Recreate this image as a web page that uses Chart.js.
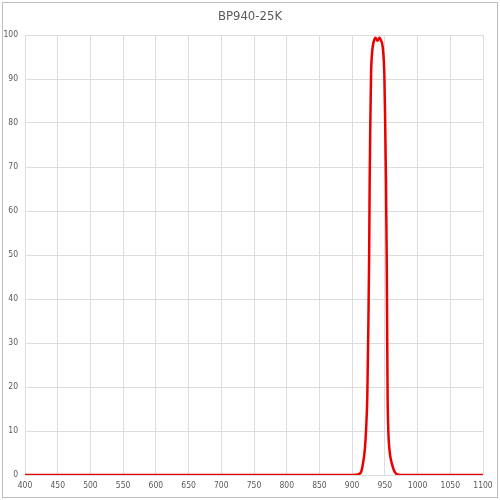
<!DOCTYPE html>
<html>
<head>
<meta charset="utf-8">
<script src="https://cdn.jsdelivr.net/npm/chart.js@4/dist/chart.umd.min.js"></script>
<style>
  html, body { margin: 0; padding: 0; background: #fff; }
  #wrap { position: absolute; left: 0; top: 0; width: 500px; height: 500px; }
  #frame { position: absolute; left: 2px; top: 2px; width: 494px; height: 494px; border: 1px solid #bfbfbf; pointer-events: none; }
  canvas { position: absolute; left: 0; top: 0; }
</style>
</head>
<body>
<div id="wrap">
  <canvas id="c" width="500" height="500"></canvas>
  <div id="frame"></div>
</div>
<script>
const chartTitle = "BP940-25K";
const wavelengths = [400, 500, 600, 700, 800, 850, 900, 905, 910, 914, 917, 919.5, 921.2, 923.2, 924.7, 926, 926.8, 927.8, 928.9, 930.9, 933, 935.6, 938.6, 941.7, 944, 947.2, 949.2, 950.3, 951.7, 952.8, 953.5, 954.2, 955.3, 956.3, 958, 960.5, 964, 968, 975, 1000, 1100];
const transmission = [0, 0, 0, 0, 0, 0, 0, 0.05, 0.2, 0.8, 3, 6, 10, 18, 33, 50, 67, 80, 91, 96.6, 98.5, 99.4, 98.7, 99.4, 98.8, 96.6, 91, 82, 67, 50, 33, 18, 10, 7, 4.5, 2.7, 1, 0.2, 0, 0, 0];
const xMin = 400, xMax = 1100, xStep = 50;
const yMin = 0, yMax = 100, yStep = 10;

const points = wavelengths.map((w, i) => ({ x: w, y: transmission[i] }));
const labelFont = '"Liberation Sans Narrow", "DejaVu Sans Condensed", Arial, sans-serif';

const titlePlugin = {
  id: 'customTitle',
  afterDraw(chart) {
    const ctx = chart.ctx;
    ctx.save();
    ctx.font = '13px ' + labelFont;
    ctx.fillStyle = '#595959';
    ctx.textAlign = 'center';
    ctx.textBaseline = 'middle';
    ctx.fillText(chartTitle, 250, 17);
    ctx.restore();
  }
};

new Chart(document.getElementById('c'), {
  type: 'line',
  data: {
    datasets: [{
      data: points,
      borderColor: 'rgb(235,0,0)',
      borderWidth: 2.5,
      pointRadius: 0,
      cubicInterpolationMode: 'monotone',
      fill: false
    }]
  },
  options: {
    responsive: false,
    animation: false,
    devicePixelRatio: 1,
    layout: { padding: { left: 0, right: 17, top: 35, bottom: 0 } },
    plugins: { legend: { display: false }, tooltip: { enabled: false }, title: { display: false } },
    scales: {
      x: {
        type: 'linear',
        min: xMin, max: xMax,
        afterFit(scale) { scale.height = 25; },
        ticks: {
          stepSize: xStep,
          color: '#595959',
          font: { family: labelFont, size: 8.5 },
          padding: 6,
          maxRotation: 0,
          autoSkip: false,
          callback: (v) => String(v)
        },
        grid: { color: '#dddddd', lineWidth: 1, drawTicks: false },
        border: { display: false }
      },
      y: {
        min: yMin, max: yMax,
        afterFit(scale) { scale.width = 25; },
        ticks: {
          stepSize: yStep,
          color: '#595959',
          font: { family: labelFont, size: 8.5 },
          padding: 7,
          callback: (v) => String(v)
        },
        grid: { color: '#dddddd', lineWidth: 1, drawTicks: false },
        border: { display: false }
      }
    }
  },
  plugins: [titlePlugin]
});
</script>
</body>
</html>
